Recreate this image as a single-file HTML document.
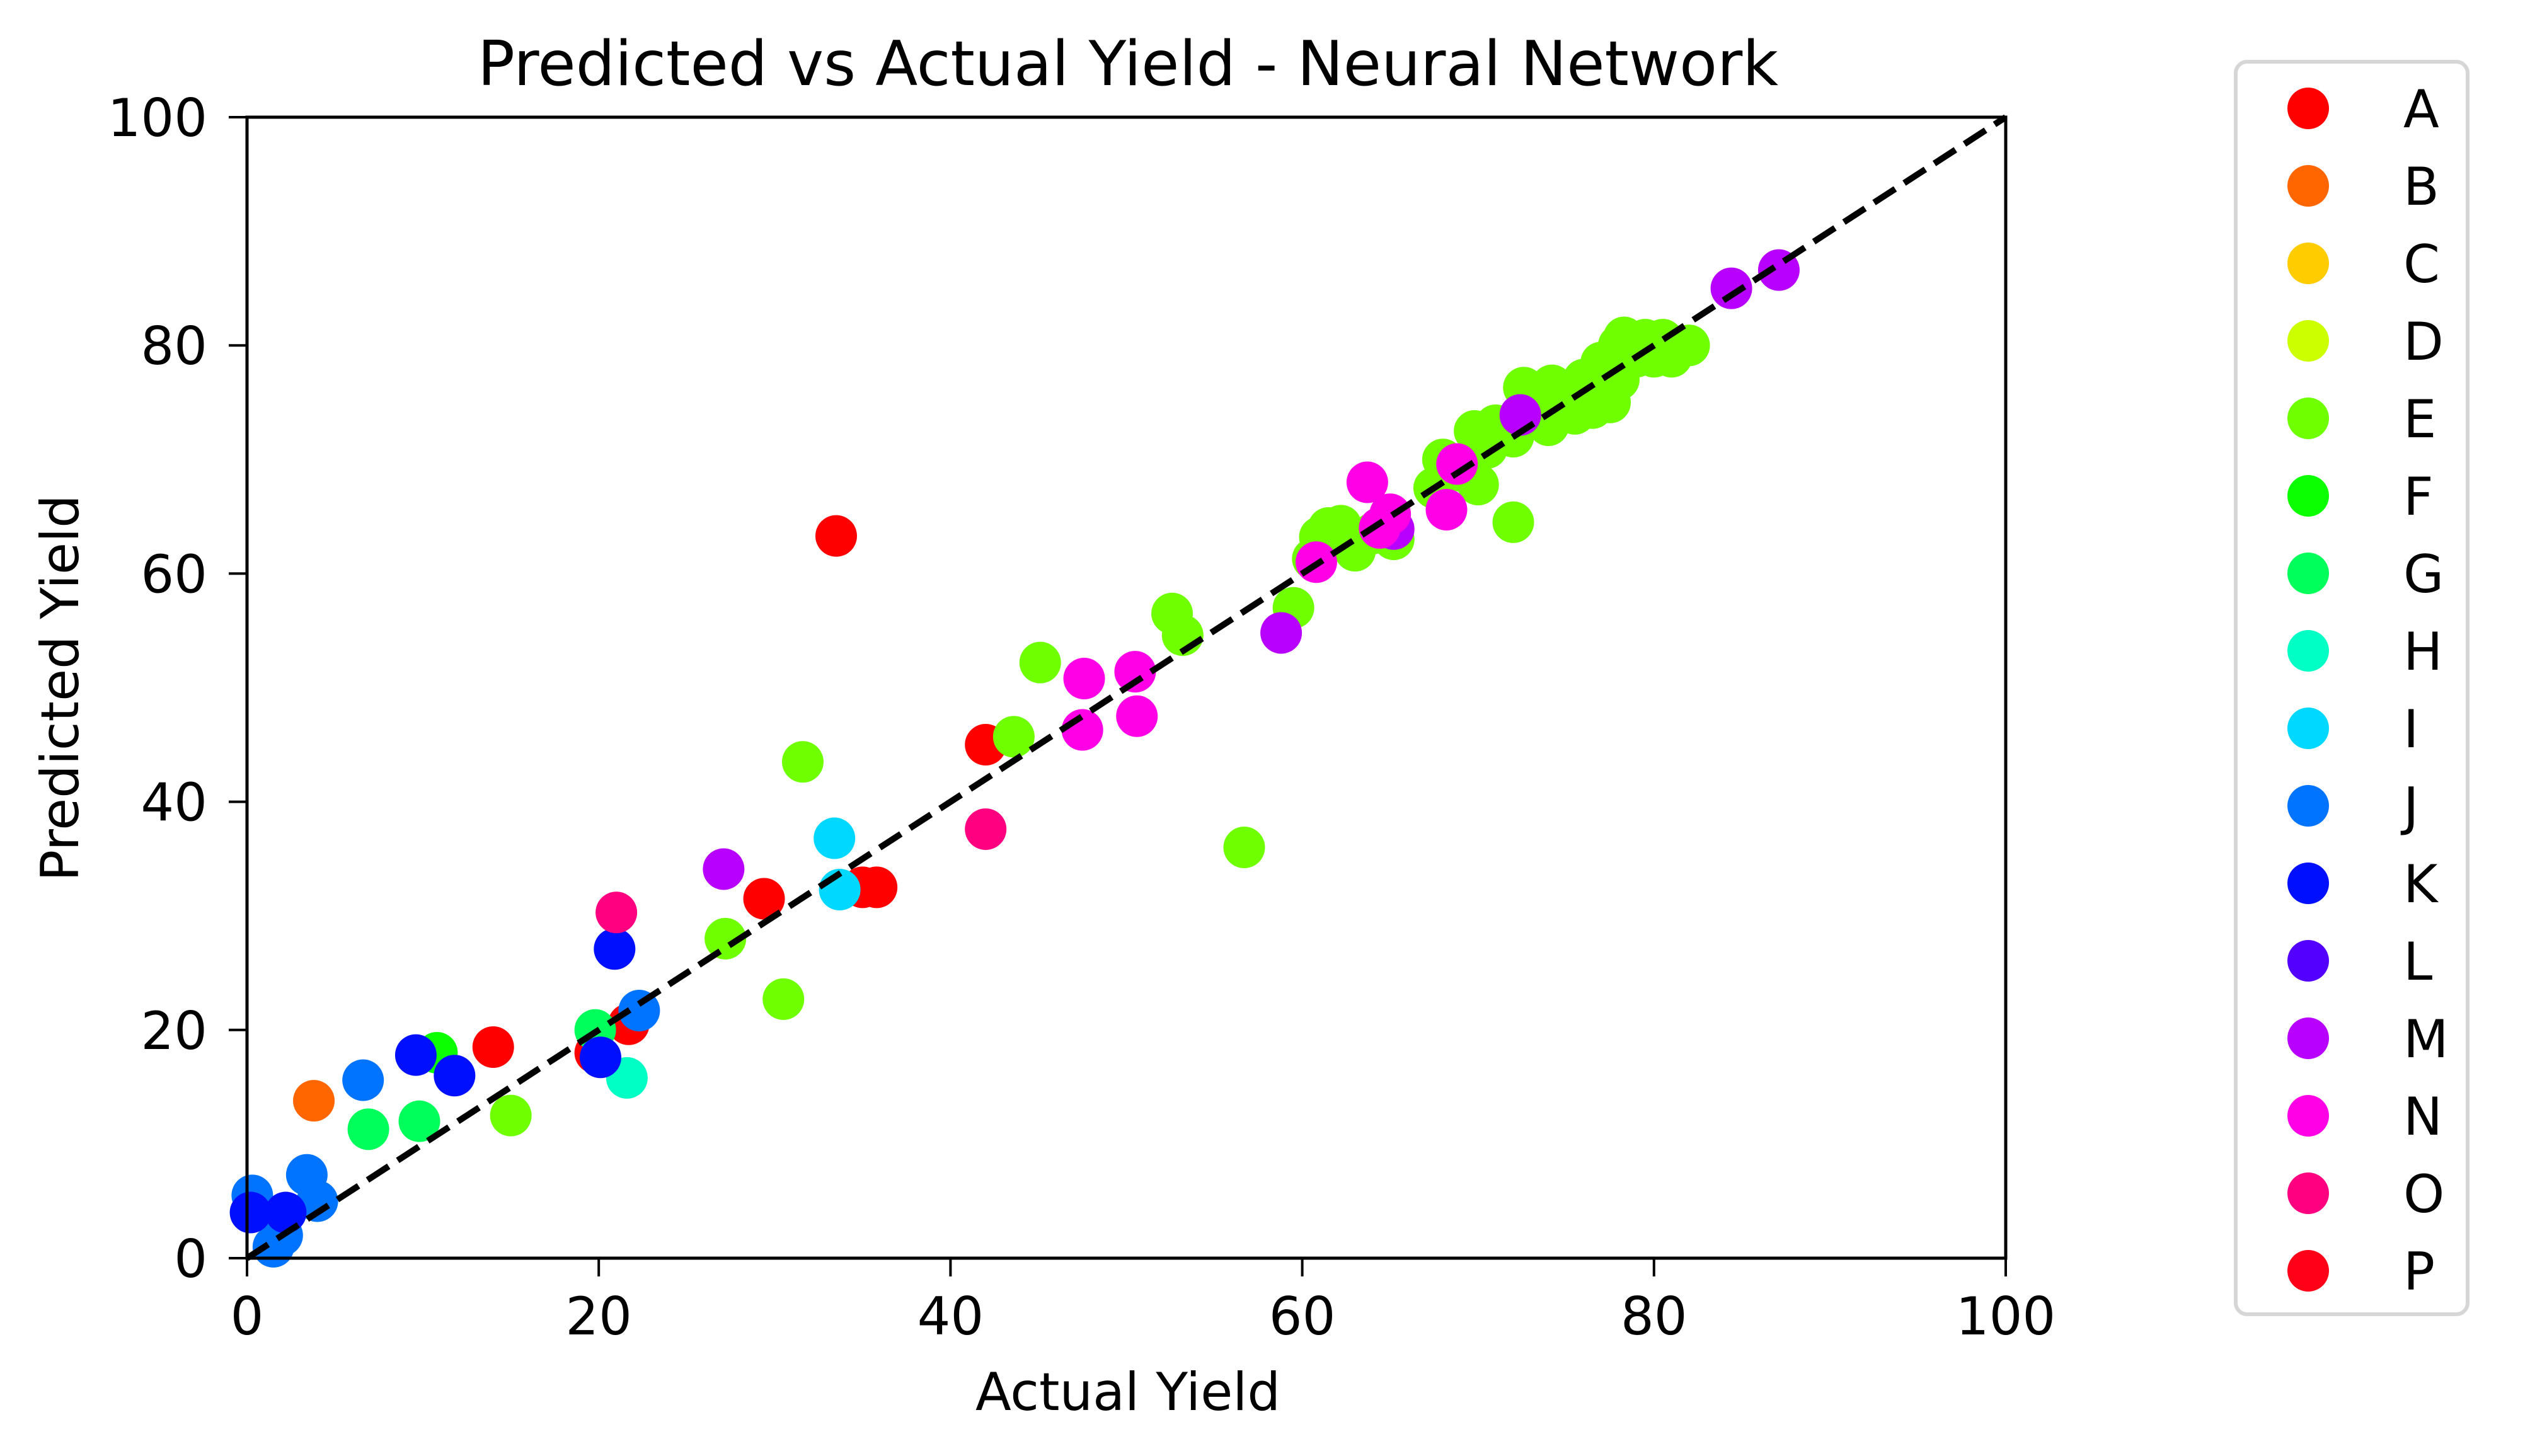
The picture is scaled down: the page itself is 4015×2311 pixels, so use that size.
<!DOCTYPE html>
<html><head><meta charset="utf-8"><style>
html,body{margin:0;padding:0;background:#fff;}
svg{display:block;}
text{font-family:"DejaVu Sans","Liberation Sans",sans-serif;fill:#000;}
</style></head><body>
<svg id="chart" width="4015" height="2311" viewBox="0 0 4015 2311" xmlns="http://www.w3.org/2000/svg">
<rect x="0" y="0" width="4015" height="2311" fill="#fff"/>
<text x="1790" y="135" font-size="98" text-anchor="middle">Predicted vs Actual Yield - Neural Network</text>
<g id="marks"></g>
<g id="axes"></g>
<g id="legend"></g>
<text x="1790" y="2238" font-size="83" text-anchor="middle">Actual Yield</text>
<text x="0" y="0" font-size="83" text-anchor="middle" transform="translate(124,1092) rotate(-90)">Predicted Yield</text>
</svg>
<script>
const categories = ["A","B","C","D","E","F","G","H","I","J","K","L","M","N","O","P"];
const colors = ["#ff0000","#ff6600","#ffcc00","#ccff00","#6fff00","#0cff00","#00ff5a","#00ffc4","#00d8ff","#0074ff","#0010ff","#5400ff","#b800ff","#ff00e6","#ff0080","#ff0018"];
const xTicks = [0,20,40,60,80,100];
const yTicks = [0,20,40,60,80,100];
const seriesA = [[14,18.5],[21.7,20.5],[19.8,18],[29.4,31.5],[35,32.5],[35.8,32.5],[42,45],[33.5,63.3]];
const seriesB = [[3.8,13.8]];
const seriesE = [[15,12.5],[27.2,28],[30.5,22.7],[31.6,43.5],[43.6,45.7],[45.1,52.2],[52.6,56.5],[53.2,54.6],[56.7,36],[59.5,57],[60.6,61.3],[61,63.2],[61.5,64],[62.2,64.2],[63,62],[64,63.5],[65.2,63],[67.5,67.5],[68,70],[69,69],[69.8,72.5],[70,67.8],[70.5,71],[71,73],[72,64.5],[72,72],[72.6,76.3],[73,74],[74,73],[74.2,76.5],[75,75],[75.5,74],[76,77],[76.5,74.5],[76.8,76.5],[77,78.5],[77.5,75],[78,80],[78,77],[78.3,80.7],[79,79],[79.5,80.5],[80,79],[80.5,80.5],[81,79],[82,80]];
const seriesF = [[10.8,18]];
const seriesG = [[6.9,11.3],[9.8,12],[19.8,20]];
const seriesH = [[21.6,15.8]];
const seriesI = [[33.4,36.8],[33.7,32.3]];
const seriesJ = [[0.3,5.5],[1.5,1],[2,2],[3.4,7.3],[4,5],[6.6,15.6],[22.3,21.7]];
const seriesK = [[0.2,4],[2.2,4],[9.6,17.8],[11.8,16],[20.1,17.6],[20.9,27.1]];
const seriesM = [[27.1,34.1],[58.8,54.8],[65.2,63.9],[72.4,73.9],[84.4,85],[87.1,86.6]];
const seriesN = [[47.5,46.3],[47.6,50.8],[50.5,51.4],[50.6,47.5],[60.8,61],[63.7,68],[64.4,64],[65,65.2],[68.2,65.6],[68.8,69.6]];
const seriesO = [[21,30.3],[42,37.6]];
const seriesData = {A:seriesA,B:seriesB,E:seriesE,F:seriesF,G:seriesG,H:seriesH,I:seriesI,J:seriesJ,K:seriesK,M:seriesM,N:seriesN,O:seriesO};

const NS="http://www.w3.org/2000/svg";
const L=392,R=3183,T=186,B=1997;
function xs(v){return L+(v-0)/(100-0)*(R-L);}
function ys(v){return B-(v-0)/(100-0)*(B-T);}
function mk(tag,attrs,parent){const e=document.createElementNS(NS,tag);for(const k in attrs)e.setAttribute(k,attrs[k]);parent.appendChild(e);return e;}

const marks=document.getElementById('marks');
categories.forEach((c,i)=>{
  const pts=seriesData[c]||[];
  pts.forEach((p,j)=>{
    const el=mk('circle',{cx:xs(p[0]),cy:ys(p[1]),r:33,fill:colors[i]},marks);
    
    
  });
});
const diag=mk('line',{x1:xs(0),y1:ys(0),x2:xs(100),y2:ys(100),stroke:'#000','stroke-width':10,'stroke-dasharray':'40 17'},marks);



const axes=document.getElementById('axes');
const frame=mk('rect',{x:L,y:T,width:R-L,height:B-T,fill:'none',stroke:'#000','stroke-width':5},axes);


xTicks.forEach(t=>{
  const tk=mk('line',{x1:xs(t),y1:B,x2:xs(t),y2:B+29,stroke:'#000','stroke-width':4},axes);
  
  
  const tx=mk('text',{x:xs(t),y:2118,'font-size':83,'text-anchor':'middle'},axes);
  tx.textContent=t;
  
  
});
yTicks.forEach(t=>{
  const tk=mk('line',{x1:L-29,y1:ys(t),x2:L,y2:ys(t),stroke:'#000','stroke-width':4},axes);
  
  
  const tx=mk('text',{x:329,y:ys(t)+30,'font-size':83,'text-anchor':'end'},axes);
  tx.textContent=t;
  
  
});

const leg=document.getElementById('legend');
const box=mk('rect',{x:3548,y:98,width:368,height:1988,rx:18,fill:'#fff',stroke:'#d6d6d6','stroke-width':6},leg);


categories.forEach((c,i)=>{
  const y=172+i*123;
  const g=mk('g',{},leg);
  
  
  mk('circle',{cx:3663,cy:y,r:33,fill:colors[i]},g);
  const tx=mk('text',{x:3814,y:y+30,'font-size':83},g);
  tx.textContent=c;
});
</script>
</body></html>
